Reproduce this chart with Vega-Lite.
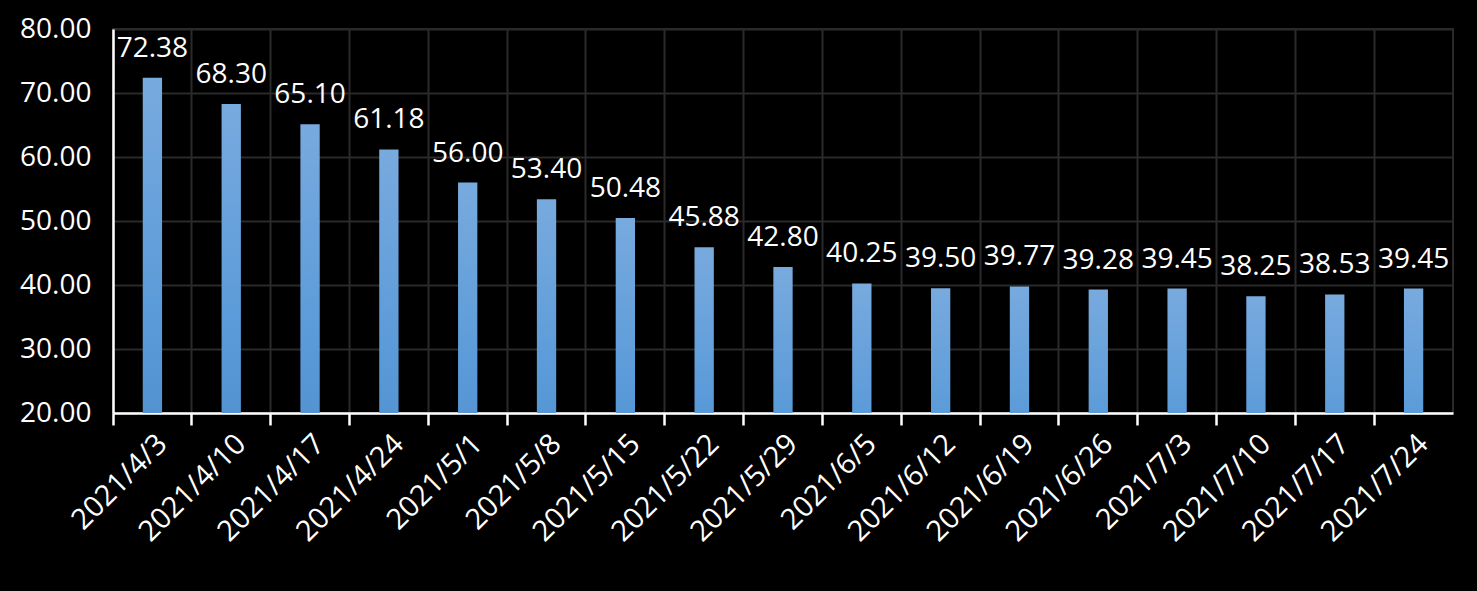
{
  "$schema": "https://vega.github.io/schema/vega-lite/v6.json",
  "width": 1340,
  "height": 384,
  "autosize": {"type": "none"},
  "padding": {"left": 113, "top": 29, "right": 24, "bottom": 178},
  "background": "#000000",
  "config": {
    "view": {"stroke": "#2a2a2a", "strokeWidth": 2},
    "font": "Open Sans"
  },
  "data": {
    "values": [
      {"date": "2021/4/3", "value": 72.38},
      {"date": "2021/4/10", "value": 68.30},
      {"date": "2021/4/17", "value": 65.10},
      {"date": "2021/4/24", "value": 61.18},
      {"date": "2021/5/1", "value": 56.00},
      {"date": "2021/5/8", "value": 53.40},
      {"date": "2021/5/15", "value": 50.48},
      {"date": "2021/5/22", "value": 45.88},
      {"date": "2021/5/29", "value": 42.80},
      {"date": "2021/6/5", "value": 40.25},
      {"date": "2021/6/12", "value": 39.50},
      {"date": "2021/6/19", "value": 39.77},
      {"date": "2021/6/26", "value": 39.28},
      {"date": "2021/7/3", "value": 39.45},
      {"date": "2021/7/10", "value": 38.25},
      {"date": "2021/7/17", "value": 38.53},
      {"date": "2021/7/24", "value": 39.45}
    ]
  },
  "encoding": {
    "x": {
      "field": "date", "type": "nominal", "sort": null,
      "scale": {"paddingInner": 0, "paddingOuter": 0},
      "axis": {
        "title": null, "labelAngle": -45, "labelAlign": "right", "labelBaseline": "top",
        "labelColor": "#ffffff", "labelFontSize": 29, "labelPadding": 4,
        "domainColor": "#ffffff", "domainWidth": 2.5,
        "tickColor": "#ffffff", "tickWidth": 2.5, "tickSize": 12, "bandPosition": 0,
        "grid": true, "gridColor": "#2a2a2a", "gridWidth": 2
      }
    },
    "y": {
      "field": "value", "type": "quantitative",
      "scale": {"domain": [20, 80], "nice": false, "zero": false},
      "axis": {
        "title": null, "values": [20, 30, 40, 50, 60, 70, 80], "format": ".2f",
        "labelColor": "#ffffff", "labelFontSize": 28, "labelPadding": 22,
        "ticks": false, "domainColor": "#ffffff", "domainWidth": 2.5,
        "grid": true, "gridColor": "#2a2a2a", "gridWidth": 2
      }
    }
  },
  "layer": [
    {
      "mark": {
        "type": "bar", "width": {"band": 0.245}, "clip": true,
        "color": {
          "gradient": "linear", "x1": 0, "y1": 0, "x2": 0, "y2": 1,
          "stops": [
            {"offset": 0, "color": "#78aade"},
            {"offset": 0.5, "color": "#5b9bd9"},
            {"offset": 1, "color": "#4a88c6"}
          ]
        }
      }
    },
    {
      "mark": {"type": "text", "baseline": "alphabetic", "dy": -21, "fontSize": 28, "color": "#ffffff"},
      "encoding": {"text": {"field": "value", "type": "quantitative", "format": ".2f"}}
    }
  ]
}
